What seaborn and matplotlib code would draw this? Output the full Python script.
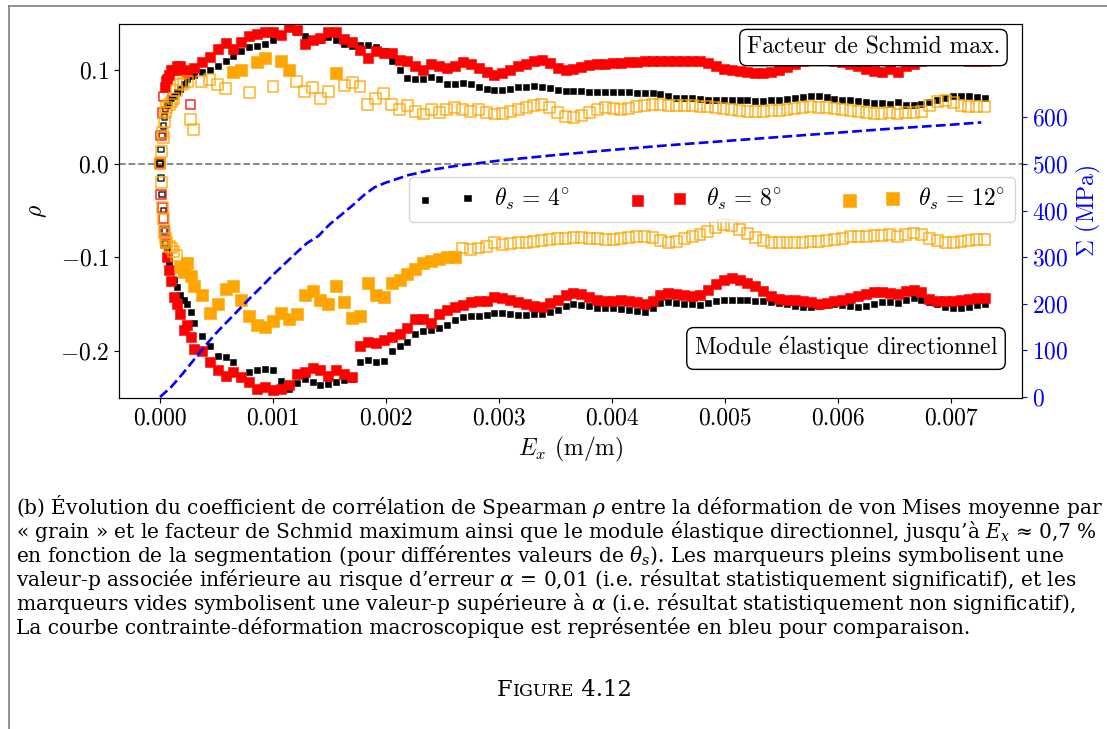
import numpy as np
import pandas as pd
import seaborn as sns
import matplotlib.pyplot as plt
from matplotlib.lines import Line2D
from matplotlib.ticker import MultipleLocator, FuncFormatter, FormatStrFormatter

# strain steps E_x (in 1e-5 m/m), shared by every rho series
strain_e5 = [0, 1, 2, 3, 4, 5, 6, 8, 10, 12,
             15, 18, 21, 24, 27, 30, 37, 44, 51, 58,
             65, 72, 79, 86, 93, 100, 107, 114, 121, 128,
             135, 142, 149, 156, 163, 170, 177, 184, 191, 198,
             205, 212, 219, 226, 233, 240, 247, 254, 261, 268,
             275, 282, 289, 296, 303, 310, 317, 324, 331, 338,
             345, 352, 359, 366, 373, 380, 387, 394, 401, 408,
             415, 422, 429, 436, 443, 450, 457, 464, 471, 478,
             485, 492, 499, 506, 513, 520, 527, 534, 541, 548,
             555, 562, 569, 576, 583, 590, 597, 604, 611, 618,
             625, 632, 639, 646, 653, 660, 667, 674, 681, 688,
             695, 702, 709, 716, 723, 730]

# Spearman rho (x 1e-3) -- facteur de Schmid max.
schmid_4 = [0, 15, 30, 40, 50, 58, 63, 66, 70, 72,
            76, 80, 85, 90, 93, 95, 98, 100, 104, 110,
            115, 120, 124, 125, 128, 132, 138, 146, 140, 136,
            133, 132, 135, 132, 128, 126, 127, 127, 124, 120,
            110, 100, 91, 90, 90, 92, 90, 85, 85, 86,
            85, 82, 80, 79, 79, 80, 82, 82, 83, 82,
            81, 79, 77, 77, 77, 76, 76, 76, 76, 76,
            76, 75, 75, 75, 74, 72, 70, 70, 70, 69,
            68, 68, 68, 68, 68, 68, 67, 67, 68, 68,
            69, 70, 71, 72, 72, 71, 69, 68, 68, 67,
            66, 65, 65, 64, 66, 63, 63, 64, 66, 68,
            70, 72, 72, 72, 71, 70]
schmid_8 = [0, 30, 54, 72, 82, 88, 90, 95, 100, 100,
            104, 104, 100, 98, 63, 102, 108, 114, 122, 129,
            122, 130, 136, 138, 140, 140, 137, 146, 143, 128,
            132, 134, 140, 140, 133, 130, 121, 113, 120, 118,
            118, 111, 110, 104, 100, 106, 104, 102, 104, 108,
            106, 102, 98, 95, 97, 100, 104, 106, 109, 111,
            107, 102, 100, 101, 103, 105, 106, 106, 107, 107,
            108, 108, 109, 109, 109, 109, 110, 110, 109, 109,
            107, 104, 101, 100, 99, 98, 97, 97, 98, 100,
            103, 106, 109, 112, 113, 112, 110, 108, 106, 104,
            101, 99, 98, 101, 98, 104, 106, 110, 113, 113,
            113, 112, 111, 110, 109, 109]
schmid_12 = [0, 13, 33, 28, 45, 55, 60, 63, 66, 70,
             78, 84, 86, 88, 47, 36, 88, 90, 84, 80,
             98, 100, 76, 108, 113, 82, 110, 100, 88, 77,
             81, 70, 77, 97, 83, 87, 82, 63, 70, 75,
             63, 58, 62, 56, 53, 58, 55, 58, 60, 58,
             56, 58, 55, 53, 54, 56, 58, 60, 62, 63,
             60, 55, 50, 49, 51, 55, 58, 60, 59, 58,
             59, 61, 62, 63, 63, 62, 62, 62, 62, 61,
             61, 60, 59, 58, 57, 56, 56, 56, 57, 57,
             58, 59, 60, 61, 60, 60, 59, 58, 57, 56,
             55, 54, 54, 55, 53, 55, 55, 56, 62, 66,
             67, 65, 62, 61, 61, 61]

# Spearman rho (x 1e-3) -- module elastique directionnel
module_4 = [0, -15, -33, -50, -72, -85, -92, -105, -115, -124,
            -132, -140, -145, -150, -158, -170, -184, -195, -205, -206,
            -212, -226, -222, -220, -219, -220, -232, -240, -234, -230,
            -233, -236, -235, -233, -231, -230, -212, -209, -212, -210,
            -200, -195, -190, -182, -178, -177, -175, -172, -167, -164,
            -163, -163, -161, -159, -159, -160, -161, -161, -160, -160,
            -158, -156, -152, -150, -151, -152, -154, -154, -154, -155,
            -156, -157, -158, -154, -149, -148, -149, -150, -150, -151,
            -149, -147, -145, -145, -145, -145, -146, -147, -148, -149,
            -150, -152, -153, -153, -152, -151, -150, -151, -152, -153,
            -152, -150, -148, -148, -149, -145, -143, -145, -148, -150,
            -153, -154, -154, -153, -151, -150]
module_8 = [0, -33, -47, -58, -72, -85, -100, -113, -125, -142,
            -150, -160, -177, -172, -185, -198, -200, -212, -220, -226,
            -222, -228, -233, -240, -238, -241, -240, -236, -224, -222,
            -218, -220, -226, -220, -224, -228, -194, -190, -191, -188,
            -185, -182, -175, -166, -166, -170, -160, -156, -153, -151,
            -148, -147, -146, -142, -143, -145, -148, -150, -152, -153,
            -149, -145, -140, -138, -139, -142, -145, -146, -146, -145,
            -146, -148, -150, -146, -140, -138, -139, -140, -141, -140,
            -135, -128, -124, -122, -124, -127, -131, -136, -141, -144,
            -145, -145, -146, -148, -150, -149, -147, -145, -143, -141,
            -139, -137, -137, -138, -139, -136, -135, -137, -144, -146,
            -146, -146, -145, -144, -143, -143]
module_12 = [0, -20, -47, -60, -74, -80, -84, -88, -90, -94,
             -98, -110, -116, -106, -120, -131, -140, -159, -150, -134,
             -131, -145, -163, -172, -174, -168, -159, -166, -160, -140,
             -136, -145, -150, -131, -148, -165, -162, -127, -140, -142,
             -127, -124, -118, -112, -106, -104, -102, -100, -100, -90,
             -92, -90, -88, -84, -86, -85, -84, -84, -83, -82,
             -81, -80, -80, -79, -79, -80, -80, -81, -81, -80,
             -79, -78, -78, -79, -82, -84, -83, -80, -78, -76,
             -72, -68, -65, -66, -70, -75, -79, -82, -84, -84,
             -84, -84, -84, -83, -83, -82, -81, -80, -78, -78,
             -78, -77, -77, -76, -78, -76, -74, -76, -80, -82,
             -84, -84, -83, -82, -81, -81]

# indices of points with p-value above alpha (drawn as empty markers)
hollow_schmid_4 = [0, 1, 2, 3, 4, 5]
hollow_schmid_8 = [0, 1, 2, 3, 14]
filled_schmid_12 = [20, 21, 23, 24, 26, 27, 33]
hollow_module_4 = [0, 1, 2, 3, 4, 5]
hollow_module_8 = [0, 1, 2, 3, 4, 5]
filled_module_12 = list(range(11, 49))

# macroscopic stress-strain curve
curve_strain_e5 = [0, 10, 20, 30, 40, 50, 60, 70, 80, 90, 100, 110, 120, 130, 140,
                   150, 160, 170, 180, 190, 200, 220, 240, 260, 280, 300, 350, 400,
                   450, 500, 550, 600, 650, 700, 727]
curve_stress = [0, 22, 50, 80, 110, 138, 163, 188, 213, 237, 262, 285, 308, 330, 345,
                370, 390, 410, 432, 450, 460, 476, 487, 495, 501, 507, 519, 530,
                540, 549, 558, 567, 576, 584, 589]

thetas = [4, 8, 12]
colors = {4: 'black', 8: 'red', 12: 'orange'}

caption_lines = [
    "(b) Évolution du coefficient de corrélation de Spearman $\\rho$ entre la déformation de von Mises moyenne par",
    "« grain » et le facteur de Schmid maximum ainsi que le module élastique directionnel, jusqu’à $E_x$ ≈ 0,7 %",
    "en fonction de la segmentation (pour différentes valeurs de $\\theta_s$). Les marqueurs pleins symbolisent une",
    "valeur-p associée inférieure au risque d’erreur $\\alpha$ = 0,01 (i.e. résultat statistiquement significatif), et les",
    "marqueurs vides symbolisent une valeur-p supérieure à $\\alpha$ (i.e. résultat statistiquement non significatif),",
    "La courbe contrainte-déformation macroscopique est représentée en bleu pour comparaison.",
]

plt.rcParams['font.family'] = 'cmr10'
plt.rcParams['mathtext.fontset'] = 'cm'
plt.rcParams['axes.formatter.use_mathtext'] = True

n = len(strain_e5)
series = {('schmid', 4): schmid_4, ('schmid', 8): schmid_8, ('schmid', 12): schmid_12,
          ('module', 4): module_4, ('module', 8): module_8, ('module', 12): module_12}
hollow = {('schmid', 4): hollow_schmid_4, ('schmid', 8): hollow_schmid_8,
          ('schmid', 12): [i for i in range(n) if i not in filled_schmid_12],
          ('module', 4): hollow_module_4, ('module', 8): hollow_module_8,
          ('module', 12): [i for i in range(n) if i not in filled_module_12]}

rows = []
for (panel, theta), vals in series.items():
    assert len(vals) == n
    for i, (e, r) in enumerate(zip(strain_e5, vals)):
        rows.append({'panel': panel, 'theta': theta, 'eps': e * 1e-5,
                     'rho': r / 1000, 'sig': i not in hollow[(panel, theta)]})
df = pd.DataFrame(rows)

curve = pd.DataFrame({'eps': np.array(curve_strain_e5) * 1e-5, 'stress': curve_stress})

fig = plt.figure(figsize=(11.07, 7.29), dpi=100)
ax = fig.add_axes([119 / 1107, 1 - 398 / 729, 903 / 1107, 374 / 729])

size_full = {4: 20, 8: 62, 12: 85}
size_empty = {4: 16, 8: 45, 12: 62}
handles = {}
for theta in thetas:
    for panel in ('schmid', 'module'):
        sub = df[(df.panel == panel) & (df.theta == theta)]
        sns.scatterplot(data=sub[sub.sig], x='eps', y='rho', marker='s', s=size_full[theta],
                        color=colors[theta], edgecolor=colors[theta], linewidth=0.4,
                        ax=ax, zorder=3, legend=False)
        if panel == 'module':
            handles[theta] = ax.collections[-1]
        sns.scatterplot(data=sub[~sub.sig], x='eps', y='rho', marker='s', s=size_empty[theta],
                        color=colors[theta], facecolor='none', edgecolor=colors[theta],
                        linewidth=1.1, alpha=0.85, ax=ax, zorder=3, legend=False)

ax.axhline(0, color='gray', ls='--', lw=1.3, zorder=1.5)
ax.set_xlim(-0.000363, 0.00763)
ax.set_ylim(-0.25, 0.149)
ax.xaxis.set_major_locator(MultipleLocator(0.001))
ax.xaxis.set_major_formatter(FormatStrFormatter('%.3f'))
ax.yaxis.set_major_locator(MultipleLocator(0.1))
ax.yaxis.set_major_formatter(FuncFormatter(
    lambda v, _: '$\\mathdefault{%.1f}$' % (0.0 if abs(v) < 1e-9 else v)))
ax.tick_params(labelsize=17)
ax.set_xlabel('$E_x$ (m/m)', fontsize=17)
ax.set_ylabel('$\\rho$', fontsize=17, labelpad=8)

ax.text(0.8355, 0.937, 'Facteur de Schmid max.', transform=ax.transAxes,
        ha='center', va='center', fontsize=17, zorder=6,
        bbox=dict(boxstyle='round,pad=0.3', fc='white', ec='black', lw=1))
ax.text(0.8051, 0.1324, 'Module $\\mathrm{\\acute{e}}$lastique directionnel', transform=ax.transAxes,
        ha='center', va='center', fontsize=17, zorder=6,
        bbox=dict(boxstyle='round,pad=0.3', fc='white', ec='black', lw=1))

leg = ax.legend([handles[t] for t in thetas],
                ['$\\theta_s\\, =\\, %d\\!^\\circ$' % t for t in thetas],
                loc='center right', bbox_to_anchor=(1.0, 0.531), ncol=3, scatterpoints=2,
                fontsize=17, handlelength=2.4, columnspacing=2.6, borderaxespad=0.3)
leg.set_zorder(7)

ax2 = ax.twinx()
sns.lineplot(data=curve, x='eps', y='stress', ax=ax2, color='blue', ls='--', lw=1.9)
ax2.set_ylim(-2, 800)
ax2.set_yticks(range(0, 700, 100))
ax2.tick_params(axis='y', colors='blue', labelsize=17)
ax2.set_ylabel('$\\Sigma$ (MPa)', color='blue', fontsize=17)
ax2.spines['right'].set_color('black')

# page frame and caption
fig.add_artist(Line2D([9 / 1107, 9 / 1107], [0, 1 - 6 / 729], transform=fig.transFigure,
                      color='#808080', lw=1.2))
fig.add_artist(Line2D([9 / 1107, 1], [1 - 6 / 729, 1 - 6 / 729], transform=fig.transFigure,
                      color='#808080', lw=1.2))

renderer = fig.canvas.get_renderer()
probe = fig.text(0, 0, caption_lines[-1], fontsize=13, family='DejaVu Serif',
                 math_fontfamily='dejavuserif')
cap_fs = 13 * 955 / probe.get_window_extent(renderer).width
probe.remove()

for k, line in enumerate(caption_lines):
    fig.text(16 / 1107, 1 - (507 + 24.2 * k) / 729, line, fontsize=cap_fs, family='DejaVu Serif',
             math_fontfamily='dejavuserif', va='center', ha='left')

x0 = 497
for piece, fs in (('F', cap_fs * 1.12), ('IGURE', cap_fs * 0.86), (' 4.12', cap_fs * 1.12)):
    t = fig.text(x0 / 1107, 1 - 696 / 729, piece, fontsize=fs, family='DejaVu Serif',
                 va='baseline', ha='left')
    x0 += t.get_window_extent(renderer).width

fig.savefig('out.png', dpi=100)
